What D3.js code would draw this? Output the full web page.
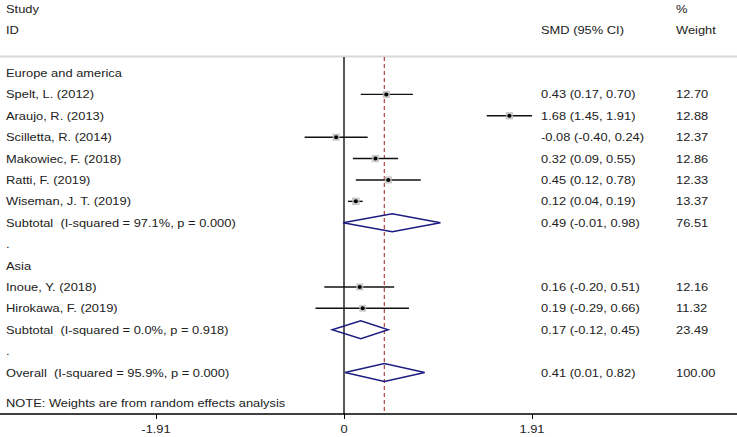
<!DOCTYPE html>
<html>
<head>
<meta charset="utf-8">
<script src="https://cdn.jsdelivr.net/npm/d3@7"></script>
<style>
  body { margin: 0; background: #fff; }
  text { font-family: "Liberation Sans", Arial, sans-serif; font-size: 11.6px; fill: #222; white-space: pre; }
</style>
</head>
<body>
<script>
// data
const groupNames = ['Europe and america', 'Asia'];
const studyNames = ['Spelt, L. (2012)', 'Araujo, R. (2013)', 'Scilletta, R. (2014)', 'Makowiec, F. (2018)',
  'Ratti, F. (2019)', 'Wiseman, J. T. (2019)', 'Inoue, Y. (2018)', 'Hirokawa, F. (2019)'];
const studyGroup = [0, 0, 0, 0, 0, 0, 1, 1];
const smd = [0.43, 1.68, -0.08, 0.32, 0.45, 0.12, 0.16, 0.19];
const ciLow = [0.17, 1.45, -0.40, 0.09, 0.12, 0.04, -0.20, -0.29];
const ciHigh = [0.70, 1.91, 0.24, 0.55, 0.78, 0.19, 0.51, 0.66];
const weights = ['12.70', '12.88', '12.37', '12.86', '12.33', '13.37', '12.16', '11.32'];

const subtotalLabels = ['Subtotal  (I-squared = 97.1%, p = 0.000)', 'Subtotal  (I-squared = 0.0%, p = 0.918)'];
const subtotalSmd = [0.49, 0.17];
const subtotalLow = [-0.01, -0.12];
const subtotalHigh = [0.98, 0.45];
const subtotalWeight = ['76.51', '23.49'];

const overallLabel = 'Overall  (I-squared = 95.9%, p = 0.000)';
const overallSmd = 0.41, overallLow = 0.01, overallHigh = 0.82, overallWeight = '100.00';

const tickValues = [-1.91, 0, 1.91];
const tickLabels = ['-1.91', '0', '1.91'];

const width = 737, height = 437;
const stretch = 1.11; // the reference text is a bit wide
const fmt = v => v.toFixed(2);
const ciText = (e, l, h) => `${fmt(e)} (${fmt(l)}, ${fmt(h)})`;

// build rows
let rows = [];
groupNames.forEach((g, gi) => {
  rows.push({ type: 'head', label: g });
  studyNames.forEach((s, i) => {
    if (studyGroup[i] === gi) {
      rows.push({ type: 'study', label: s, es: smd[i], lo: ciLow[i], hi: ciHigh[i], w: weights[i], wn: +weights[i] });
    }
  });
  rows.push({ type: 'sub', label: subtotalLabels[gi], es: subtotalSmd[gi], lo: subtotalLow[gi], hi: subtotalHigh[gi], w: subtotalWeight[gi] });
  rows.push({ type: 'dot', label: '.' });
});
rows.pop();
rows.push({ type: 'dot', label: '.' });
rows.push({ type: 'sub', label: overallLabel, es: overallSmd, lo: overallLow, hi: overallHigh, w: overallWeight });

let svg = d3.select('body').append('svg')
  .attr('width', width)
  .attr('height', height);

let x = d3.scaleLinear().domain([-1.91, 1.91]).range([156, 532]);
let y = d3.scaleLinear().domain([0, rows.length - 1]).range([73, 372.5]);
let boxSize = d3.scaleSqrt().domain([0, 13.37]).range([0, 7.5]);

const addText = (tx, ty, str, anchor) => svg.append('text')
  .attr('transform', `translate(${tx},${ty}) scale(${stretch},1)`)
  .attr('text-anchor', anchor || 'start')
  .text(str);

// headers
addText(6, 13, 'Study');
addText(6, 34, 'ID');
addText(541, 34, 'SMD (95% CI)');
addText(676, 13, '%');
addText(676, 34, 'Weight');

svg.append('line')
  .attr('x1', 0).attr('x2', width)
  .attr('y1', 56.5).attr('y2', 56.5)
  .attr('stroke', '#d8d8d8').attr('stroke-width', 2);

// no-effect line and overall line
const axisY = 414;
svg.append('line')
  .attr('x1', x(0)).attr('x2', x(0))
  .attr('y1', 57).attr('y2', axisY)
  .attr('stroke', '#000').attr('stroke-width', 1.3);
svg.append('line')
  .attr('x1', x(overallSmd)).attr('x2', x(overallSmd))
  .attr('y1', 57).attr('y2', axisY)
  .attr('stroke', '#b5514f').attr('stroke-width', 1.3)
  .attr('stroke-dasharray', '4,3');

// row labels, estimates and weights
rows.forEach((d, i) => {
  addText(6, y(i) + 4, d.label);
  if (d.es !== undefined) {
    addText(541, y(i) + 4, ciText(d.es, d.lo, d.hi));
    addText(676, y(i) + 4, d.w);
  }
});

let est = rows.map((d, i) => ({ d, i })).filter(o => o.d.es !== undefined);

// study CIs
let st = est.filter(o => o.d.type === 'study');
svg.selectAll('.ci')
  .data(st)
  .enter()
  .append('line')
  .attr('x1', o => x(o.d.lo)).attr('x2', o => x(o.d.hi))
  .attr('y1', o => y(o.i)).attr('y2', o => y(o.i))
  .attr('stroke', '#111').attr('stroke-width', 1.4);
svg.selectAll('.box')
  .data(st)
  .enter()
  .append('rect')
  .attr('x', o => x(o.d.es) - boxSize(o.d.wn) / 2)
  .attr('y', o => y(o.i) - boxSize(o.d.wn) / 2)
  .attr('width', o => boxSize(o.d.wn))
  .attr('height', o => boxSize(o.d.wn))
  .attr('fill', '#bdbdbd').attr('opacity', 0.8);
svg.selectAll('.pt')
  .data(st)
  .enter()
  .append('circle')
  .attr('cx', o => x(o.d.es))
  .attr('cy', o => y(o.i))
  .attr('r', 2)
  .attr('fill', '#000');

// diamonds
let sub = est.filter(o => o.d.type === 'sub');
svg.selectAll('.dia')
  .data(sub)
  .enter()
  .append('path')
  .attr('d', o => {
    let cy = y(o.i);
    return `M${x(o.d.lo)},${cy}L${x(o.d.es)},${cy - 9}L${x(o.d.hi)},${cy}L${x(o.d.es)},${cy + 9}Z`;
  })
  .attr('fill', 'none')
  .attr('stroke', '#1c1c80')
  .attr('stroke-width', 1.4);

// note
addText(6, 407, 'NOTE: Weights are from random effects analysis');

// x axis
svg.append('line')
  .attr('x1', 0).attr('x2', width)
  .attr('y1', axisY).attr('y2', axisY)
  .attr('stroke', '#000').attr('stroke-width', 1.3);
let axis = svg.append('g')
  .attr('transform', `translate(0, ${axisY})`)
  .call(d3.axisBottom(x).tickValues(tickValues).tickSize(5).tickFormat((d, i) => tickLabels[i]));
axis.select('.domain').remove();
axis.selectAll('line').attr('stroke', '#000');
axis.selectAll('text').remove();
tickValues.forEach((v, i) => addText(x(v), axisY + 19, tickLabels[i], 'middle'));
</script>
</body>
</html>
